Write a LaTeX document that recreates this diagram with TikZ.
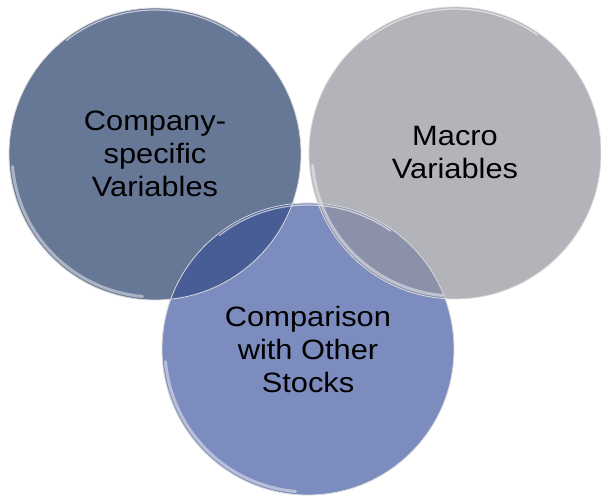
\documentclass[tikz,border=0pt]{standalone}
\usepackage{fontspec}
\setmainfont[FakeStretch=1.1]{Liberation Sans}
\definecolor{compcol}{RGB}{103,119,150}
\definecolor{macrocol}{RGB}{178,180,185}
\definecolor{stockcol}{RGB}{125,140,190}
\definecolor{cscol}{RGB}{72,92,150}
\definecolor{mscol}{RGB}{140,145,170}
\begin{document}
\begin{tikzpicture}[x=1pt,y=-1pt]
		\tikzstyle{venn}=[circle,minimum size=292pt,inner sep=0pt,align=center,
			font=\fontsize{28}{33}\selectfont]
		\tikzstyle{rim}=[white,line width=3pt,opacity=0.45,line cap=round]
		\tikzstyle{gloss}=[white,line width=1.2pt,opacity=0.6,line cap=round]
		\useasboundingbox (0,0) rectangle (601,497);
		\begin{scope}
		\node[venn,fill=compcol]  (comp)  at (155,154) {Company-\\specific\\Variables};
		\node[venn,fill=macrocol] (macro) at (455,153) {Macro\\Variables};
		\node[venn,fill=stockcol] (stock) at (308,349) {Comparison\\with Other\\Stocks};
		\end{scope}
		
		% overlaps
		\begin{scope}
		\clip (stock.center) circle[radius=146pt];
		\fill[cscol] (comp.center) circle[radius=146pt];
		\fill[mscol] (macro.center) circle[radius=146pt];
		\end{scope}
		
		% glass rims
		\foreach \c in {comp,macro,stock}{
			\draw[white!70!gray,line width=0.8pt] (\c.center) circle[radius=146pt];
			\draw[rim] ([shift={(185:143pt)}]\c.center) arc[start angle=185,end angle=265,radius=143pt];
			\draw[gloss] ([shift={(55:144pt)}]\c.center) arc[start angle=55,end angle=128,radius=144pt];
		}
		\end{tikzpicture}
\end{document}
